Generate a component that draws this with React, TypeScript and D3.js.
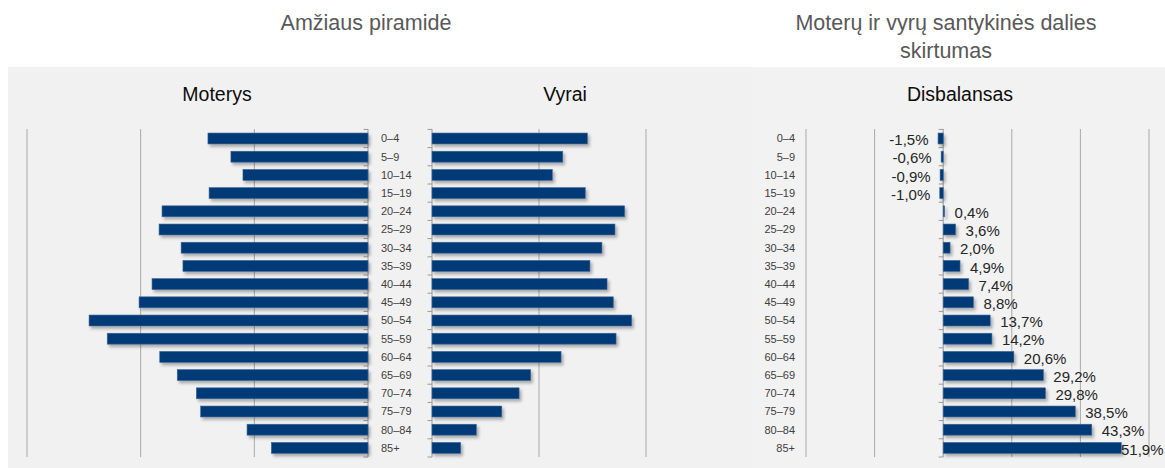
import React from "react";
import * as d3 from "d3";

const ageGroups = ["0–4","5–9","10–14","15–19","20–24","25–29","30–34","35–39","40–44","45–49","50–54","55–59","60–64","65–69","70–74","75–79","80–84","85+"];
// thousands of people
const women = [70.4,60.3,55.0,69.9,90.6,91.9,82.2,81.4,95.0,100.7,122.7,114.7,91.6,83.9,75.5,73.6,53.2,42.5];
const men = [72.6,61.1,56.2,71.6,90.0,85.5,79.4,73.8,81.8,84.7,93.3,86.0,60.3,46.1,40.7,32.6,20.7,13.4];
// relative difference, %
const disbalance = [-1.5,-0.6,-0.9,-1.0,0.4,3.6,2.0,4.9,7.4,8.8,13.7,14.2,20.6,29.2,29.8,38.5,43.3,51.9];

const womenTicks = [50, 100, 150];
const menTicks = [50, 100];
const disTicks = [-40, -20, 20, 40, 60];

const W = 1165, H = 468;
const FONT = "'Liberation Sans', Arial, sans-serif";
const BAR = "#003B78";
const BAR_EDGE = "#3C6494";
const GRID = "#A9A9A9";
const AXIS = "#9A9A9A";

export default function App() {
  const y = d3.scaleBand<string>().domain(ageGroups).range([129.4, 457]).paddingInner(0.4).paddingOuter(0.2);
  const step = y.step();
  const gridTop = 129, gridBottom = 457;

  const xW = d3.scaleLinear().domain([0, 150]).range([368, 27]);
  const xM = d3.scaleLinear().domain([0, 100]).range([432, 646]);
  const xD = d3.scaleLinear().domain([-40, 60]).range([806, 1149]);

  const boundaries = d3.range(ageGroups.length + 1).map(i => 129.4 + i * step);
  const fmt = (v: number) => v.toFixed(1).replace(".", ",") + "%";
  const labelRightLimit = W - 44;

  const catAxis = (x0: number, key: string) => (
    <g key={key}>
      <line x1={x0} x2={x0} y1={gridTop} y2={gridBottom} stroke={AXIS} strokeWidth={1} />
      {boundaries.map((b, i) => (
        <line key={i} x1={x0 - 4.5} x2={x0} y1={b} y2={b} stroke={AXIS} strokeWidth={1} />
      ))}
    </g>
  );

  return (
    <div style={{ position: "absolute", left: 0, top: 0 }}>
      <svg width={W} height={H} style={{ display: "block", fontFamily: FONT }}>
        <defs>
          <filter id="sh" x="-10%" y="-30%" width="130%" height="180%">
            <feDropShadow dx={2} dy={2.5} stdDeviation={1.6} floodColor="#000" floodOpacity={0.3} />
          </filter>
        </defs>
        <rect x={0} y={0} width={W} height={H} fill="#ffffff" />
        <rect x={8} y={67} width={744} height={H - 67} fill="#F1F1F1" />
        <rect x={752} y={67} width={W - 752} height={H - 67} fill="#F2F2F2" />

        {/* top titles */}
        <text x={366} y={30} textAnchor="middle" fontSize={21.5} fill="#595959">Amžiaus piramidė</text>
        <text x={946} y={30} textAnchor="middle" fontSize={21.5} fill="#595959">Moterų ir vyrų santykinės dalies</text>
        <text x={946} y={58} textAnchor="middle" fontSize={21.5} fill="#595959">skirtumas</text>

        {/* panel titles */}
        <text x={217} y={101} textAnchor="middle" fontSize={19.5} fill="#0D0D0D">Moterys</text>
        <text x={565} y={101} textAnchor="middle" fontSize={19.5} fill="#0D0D0D">Vyrai</text>
        <text x={960} y={101} textAnchor="middle" fontSize={19.5} fill="#0D0D0D">Disbalansas</text>

        {/* gridlines */}
        {womenTicks.map(t => (
          <line key={"gw" + t} x1={xW(t)} x2={xW(t)} y1={gridTop} y2={gridBottom} stroke={GRID} strokeWidth={1} />
        ))}
        {menTicks.map(t => (
          <line key={"gm" + t} x1={xM(t)} x2={xM(t)} y1={gridTop} y2={gridBottom} stroke={GRID} strokeWidth={1} />
        ))}
        {disTicks.map(t => (
          <line key={"gd" + t} x1={xD(t)} x2={xD(t)} y1={gridTop} y2={gridBottom} stroke={GRID} strokeWidth={1} />
        ))}

        {catAxis(xW(0), "aw")}
        {catAxis(xM(0), "am")}
        {catAxis(xD(0), "ad")}

        {/* women bars */}
        <g filter="url(#sh)">
          {women.map((v, i) => (
            <rect key={"w" + i} x={xW(v)} y={y(ageGroups[i])!} width={xW(0) - xW(v)} height={y.bandwidth()}
              fill={BAR} stroke={BAR_EDGE} strokeWidth={0.6} />
          ))}
        </g>
        {/* men bars */}
        <g filter="url(#sh)">
          {men.map((v, i) => (
            <rect key={"m" + i} x={xM(0)} y={y(ageGroups[i])!} width={xM(v) - xM(0)} height={y.bandwidth()}
              fill={BAR} stroke={BAR_EDGE} strokeWidth={0.6} />
          ))}
        </g>
        {/* disbalance bars */}
        <g filter="url(#sh)">
          {disbalance.map((v, i) => (
            <rect key={"d" + i} x={Math.min(xD(0), xD(v))} y={y(ageGroups[i])!} width={Math.abs(xD(v) - xD(0))} height={y.bandwidth()}
              fill={BAR} stroke={BAR_EDGE} strokeWidth={0.6} />
          ))}
        </g>

        {/* age labels */}
        {ageGroups.map((a, i) => (
          <text key={"la" + i} x={381} y={y(a)! + y.bandwidth() / 2} dy="0.35em" fontSize={11} fill="#404040">{a}</text>
        ))}
        {ageGroups.map((a, i) => (
          <text key={"lb" + i} x={795} y={y(a)! + y.bandwidth() / 2} dy="0.35em" textAnchor="end" fontSize={11} fill="#404040">{a}</text>
        ))}

        {/* data labels */}
        {disbalance.map((v, i) => {
          const cy = y(ageGroups[i])! + y.bandwidth() / 2 + 1.5;
          if (v < 0) {
            return <text key={"dl" + i} x={xD(v) - 9.5} y={cy} dy="0.35em" textAnchor="end" fontSize={15} fill="#262626">{fmt(v)}</text>;
          }
          return <text key={"dl" + i} x={Math.min(xD(v) + 10, labelRightLimit)} y={cy} dy="0.35em" fontSize={15} fill="#262626">{fmt(v)}</text>;
        })}
      </svg>
    </div>
  );
}
